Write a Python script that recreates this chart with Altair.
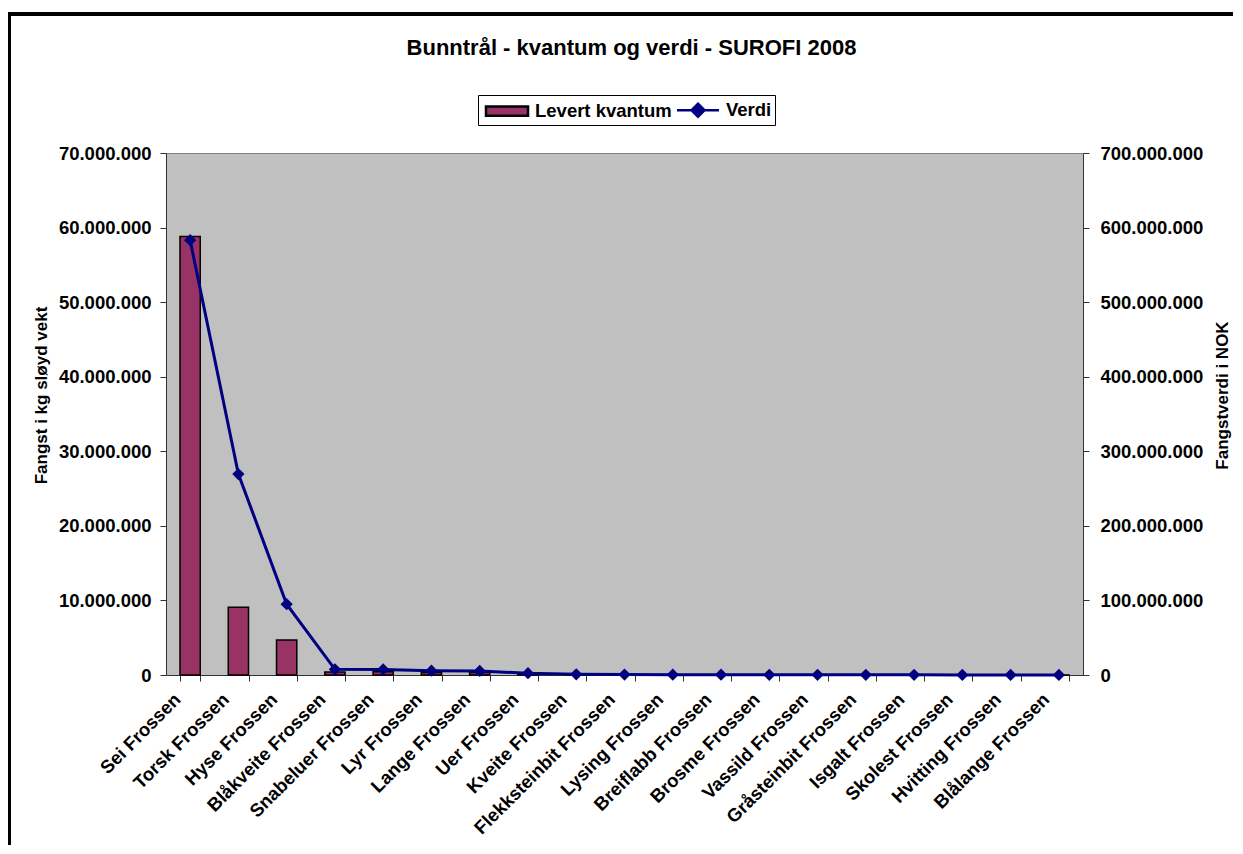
import altair as alt
import pandas as pd

arter = ["Sei Frossen", "Torsk Frossen", "Hyse Frossen", "Blåkveite Frossen", "Snabeluer Frossen",
         "Lyr Frossen", "Lange Frossen", "Uer Frossen", "Kveite Frossen", "Flekksteinbit Frossen",
         "Lysing Frossen", "Breiflabb Frossen", "Brosme Frossen", "Vassild Frossen",
         "Gråsteinbit Frossen", "Isgalt Frossen", "Skolest Frossen", "Hvitting Frossen",
         "Blålange Frossen"]
kvantum = [58_800_000, 9_080_000, 4_690_000, 400_000, 420_000, 350_000, 330_000, 150_000, 60_000,
           40_000, 30_000, 30_000, 25_000, 25_000, 20_000, 15_000, 12_000, 10_000, 5_000]
verdi = [583_000_000, 269_500_000, 95_000_000, 7_600_000, 7_500_000, 5_800_000, 5_400_000,
         2_400_000, 900_000, 600_000, 500_000, 400_000, 300_000, 300_000, 200_000, 200_000,
         100_000, 100_000, 50_000]
serier = ["Levert kvantum", "Verdi"]
left_ticks = [0, 10_000_000, 20_000_000, 30_000_000, 40_000_000, 50_000_000, 60_000_000, 70_000_000]
right_ticks = [0, 100_000_000, 200_000_000, 300_000_000, 400_000_000, 500_000_000, 600_000_000, 700_000_000]

df = pd.DataFrame({"art": arter, "kvantum": kvantum, "verdi": verdi})

FONT = "Liberation Sans"
BAR = "#993366"
NAVY = "#000080"
dotfmt = "replace(replace(format(datum.value, ','), ',', '.'), ',', '.')"

x_enc = alt.X(
    "art:N", sort=arter, title=None,
    scale=alt.Scale(paddingInner=0.58, paddingOuter=0.29),
    axis=alt.Axis(labelAngle=-45, labelAlign="right", labelBaseline="middle",
                  labelFont=FONT, labelFontSize=18.5, labelFontWeight="bold", labelColor="black",
                  labelPadding=15, labelOffset=-13, tickBand="extent", tickSize=6,
                  tickColor="#333333", domainColor="#333333", labelLimit=300),
)

base = alt.Chart(df)

bars = base.mark_bar(color=BAR, stroke="black", strokeWidth=1.5).encode(
    x=x_enc,
    y=alt.Y("kvantum:Q", title="Fangst i kg sløyd vekt",
            scale=alt.Scale(domain=[0, 70_000_000], nice=False),
            axis=alt.Axis(values=left_ticks, labelExpr=dotfmt, orient="left", grid=False,
                          labelFont=FONT, labelFontSize=18.5, labelFontWeight="bold",
                          labelColor="black", tickSize=6, labelPadding=9,
                          tickColor="#333333", domainColor="#333333",
                          titleFont=FONT, titleFontSize=17, titleFontWeight="bold",
                          titleColor="black", titlePadding=8, titleY=242)),
)

y_right = alt.Y("verdi:Q", title="Fangstverdi i NOK",
                scale=alt.Scale(domain=[0, 700_000_000], nice=False),
                axis=alt.Axis(values=right_ticks, labelExpr=dotfmt, orient="right", grid=False,
                              labelFont=FONT, labelFontSize=18.5, labelFontWeight="bold",
                              labelColor="black", tickSize=6, labelPadding=11,
                              tickColor="#333333", domainColor="#333333",
                              titleFont=FONT, titleFontSize=17, titleFontWeight="bold",
                              titleColor="black", titlePadding=29, titleAngle=270, titleY=242))

line = base.mark_line(color=NAVY, strokeWidth=3).encode(
    x=alt.X("art:N", sort=arter),
    y=y_right,
)

points = base.mark_point(shape="diamond", filled=True, size=150, color=NAVY, opacity=1).encode(
    x=alt.X("art:N", sort=arter),
    y=y_right,
)

rect_path = "M-2,-0.45H2V0.45H-2Z"
linediamond_path = "M-2,0H2M0,-0.62L0.62,0L0,0.62L-0.62,0Z"

legend_layer = base.transform_filter("false").transform_calculate(serie="'x'").mark_point(
    filled=True, opacity=1, strokeWidth=2.5
).encode(
    color=alt.Color("serie:N", scale=alt.Scale(domain=serier, range=[BAR, NAVY]),
                    legend=alt.Legend(title=None, orient="none", legendX=312, legendY=-58,
                                      direction="horizontal", strokeColor="black",
                                      padding=3, labelFont=FONT, labelFontSize=18.5,
                                      labelFontWeight="bold", labelColor="black",
                                      symbolSize=441, symbolOffset=14, labelOffset=16,
                                      columnPadding=0, symbolStrokeWidth=2.5)),
    shape=alt.Shape("serie:N", scale=alt.Scale(domain=serier, range=[rect_path, linediamond_path])),
    stroke=alt.Stroke("serie:N", scale=alt.Scale(domain=serier, range=["black", NAVY])),
)

# chart-area frame (left and top edges; right and bottom lie beyond the page)
frame_left = base.mark_rule(color="black", strokeWidth=3).encode(
    x=alt.value(-157), y=alt.value(-140), y2=alt.value(700)
)
frame_top = base.mark_rule(color="black", strokeWidth=3).encode(
    x=alt.value(-158.5), x2=alt.value(1100), y=alt.value(-139)
)

chart = alt.layer(
    alt.layer(bars, legend_layer, frame_left, frame_top),
    alt.layer(line, points),
).resolve_scale(y="independent")

chart = chart.properties(
    width=917, height=522,
    title=alt.TitleParams("Bunntrål - kvantum og verdi - SUROFI 2008", font=FONT, fontSize=22,
                          fontWeight="bold", color="black", anchor="middle", frame="group",
                          offset=-48, dx=7),
    autosize=alt.AutoSizeParams(type="none"),
    padding={"left": 158, "top": 145, "right": 150, "bottom": 170},
    view=alt.ViewBackground(fill="#C0C0C0", stroke="#808080", strokeWidth=1),
).configure_view(fill="#C0C0C0", stroke="#808080", strokeWidth=1)

chart.save("out.html", embed_options={"renderer": "svg", "actions": False})
